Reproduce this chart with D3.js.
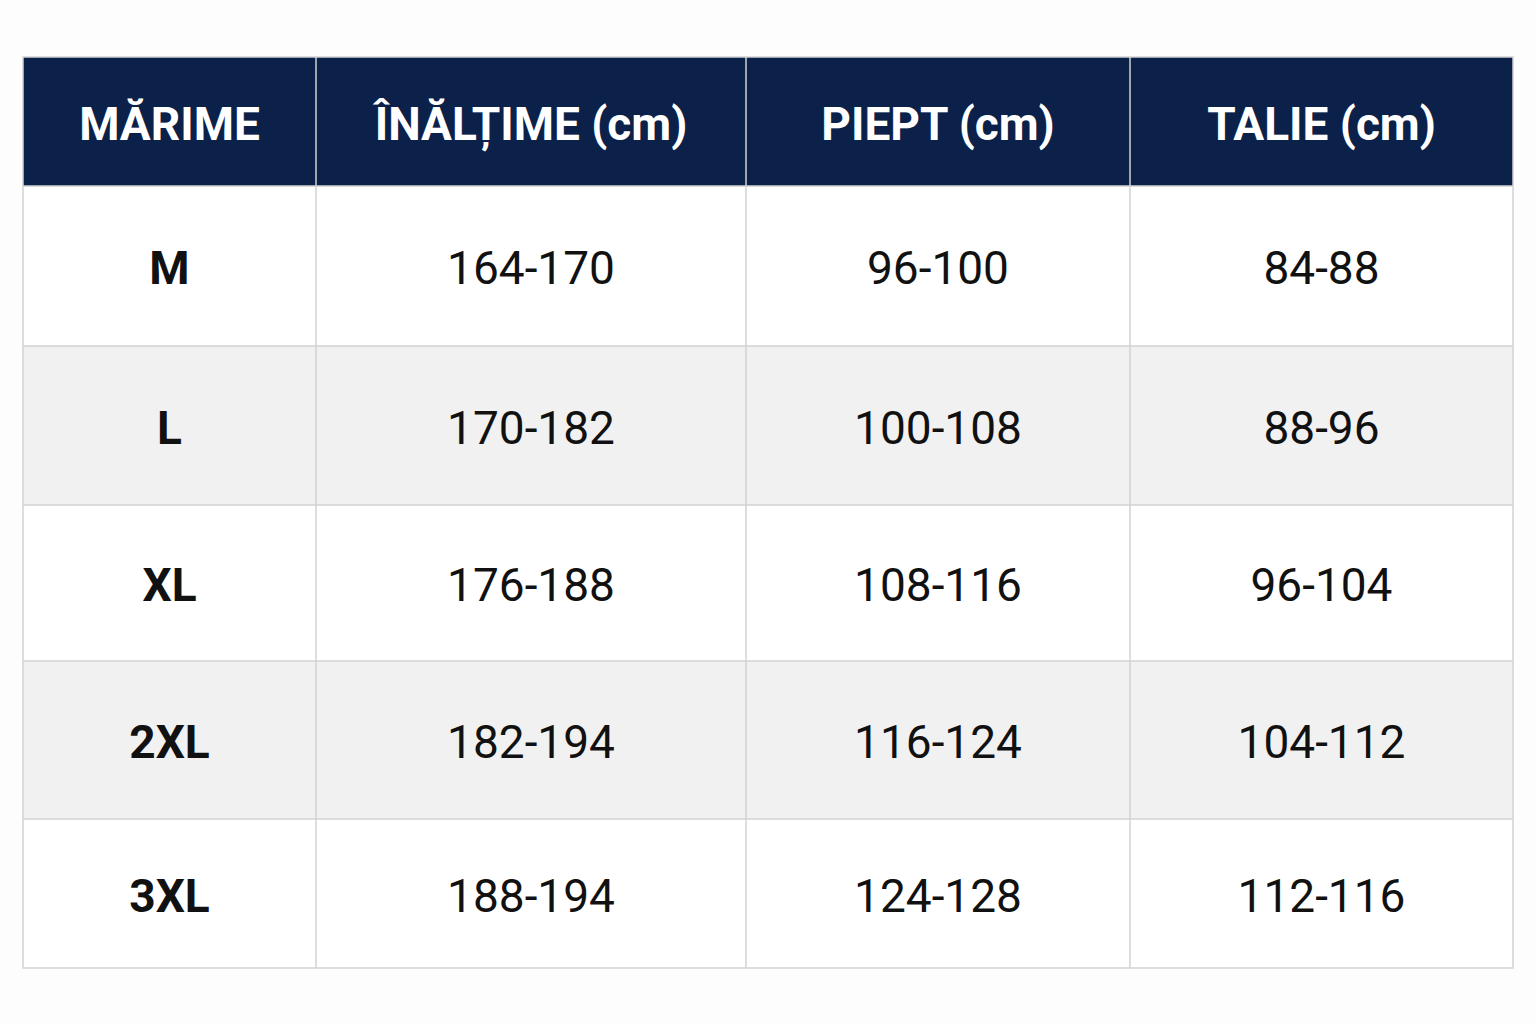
<!DOCTYPE html>
<html>
<head>
<meta charset="utf-8">
<script src="https://cdn.jsdelivr.net/npm/d3@7"></script>
<style>
  body { margin: 0; background: #fdfdfd; }
  svg { display: block; }
</style>
</head>
<body>
<svg id="chart" width="1536" height="1024"></svg>
<script>
// size chart data
var headers = ["MĂRIME", "ÎNĂLȚIME (cm)", "PIEPT (cm)", "TALIE (cm)"];
var sizes   = ["M", "L", "XL", "2XL", "3XL"];
var heights = ["164-170", "170-182", "176-188", "182-194", "188-194"];
var chest   = ["96-100", "100-108", "108-116", "116-124", "124-128"];
var waist   = ["84-88", "88-96", "96-104", "104-112", "112-116"];

// layout (note: "top" is reserved on window, so tblTop)
var tblLeft = 23, tblRight = 1513, tblTop = 57, headH = 129, tblBottom = 968;
var colWeights = [293, 430, 384, 383];        // relative column widths
var rowWeights = [160, 159, 156, 158, 149];   // relative row heights

var svg = d3.select("#chart");

function cumsum(a){
  var c = [0];
  a.forEach(function(w, i){ c.push(c[i] + w); });
  return c;
}
var cx = cumsum(colWeights), cy = cumsum(rowWeights);
var x = d3.scaleLinear().domain([0, d3.sum(colWeights)]).range([tblLeft, tblRight]);
var y = d3.scaleLinear().domain([0, d3.sum(rowWeights)]).range([tblTop + headH, tblBottom]);

var cols = [sizes, heights, chest, waist];
var rows = sizes.map(function(s, i){
  return cols.map(function(c){ return c[i]; });
});

// header
svg.selectAll("rect.head").data(headers).enter().append("rect")
  .attr("class", "head")
  .attr("x", function(d, i){ return x(cx[i]); })
  .attr("y", tblTop)
  .attr("width", function(d, i){ return x(cx[i+1]) - x(cx[i]); })
  .attr("height", headH)
  .attr("fill", "#0b2149");

svg.selectAll("text.head").data(headers).enter().append("text")
  .attr("class", "head")
  .attr("x", function(d, i){ return (x(cx[i]) + x(cx[i+1])) / 2; })
  .attr("y", tblTop + headH / 2 + 2)
  .attr("dy", "0.35em")
  .attr("text-anchor", "middle")
  .attr("fill", "#ffffff")
  .style("font-family", "Roboto, sans-serif")
  .style("font-weight", "700")
  .style("font-size", "46px")
  .text(function(d){ return d; });

// body rows
var g = svg.selectAll("g.row").data(rows).enter().append("g")
  .attr("class", "row")
  .attr("transform", function(d, i){ return "translate(0," + y(cy[i]) + ")"; });

g.append("rect")
  .attr("x", tblLeft)
  .attr("width", tblRight - tblLeft)
  .attr("height", function(d, i){ return y(cy[i+1]) - y(cy[i]); })
  .attr("fill", function(d, i){ return i % 2 ? "#f1f1f1" : "#ffffff"; });

g.each(function(row, r){
  var h = y(cy[r+1]) - y(cy[r]);
  d3.select(this).selectAll("text").data(row).enter().append("text")
    .attr("x", function(d, i){ return (x(cx[i]) + x(cx[i+1])) / 2; })
    .attr("y", h / 2 + 2)
    .attr("dy", "0.35em")
    .attr("text-anchor", "middle")
    .attr("fill", "#111")
    .style("font-family", "Roboto, sans-serif")
    .style("font-weight", function(d, i){ return i === 0 ? "700" : "400"; })
    .style("font-size", "46px")
    .text(function(d){ return d; });
});

// grid lines
var grid = svg.append("g").attr("stroke", "#d2d2d2").attr("stroke-width", 1.5);
cy.slice(0, -1).forEach(function(c){
  grid.append("line").attr("x1", tblLeft).attr("x2", tblRight)
    .attr("y1", y(c)).attr("y2", y(c));
});
cx.slice(1, -1).forEach(function(c){
  grid.append("line").attr("x1", x(c)).attr("x2", x(c))
    .attr("y1", tblTop).attr("y2", tblBottom);
});
grid.append("rect").attr("x", tblLeft).attr("y", tblTop)
  .attr("width", tblRight - tblLeft).attr("height", tblBottom - tblTop)
  .attr("fill", "none");
</script>
</body>
</html>
